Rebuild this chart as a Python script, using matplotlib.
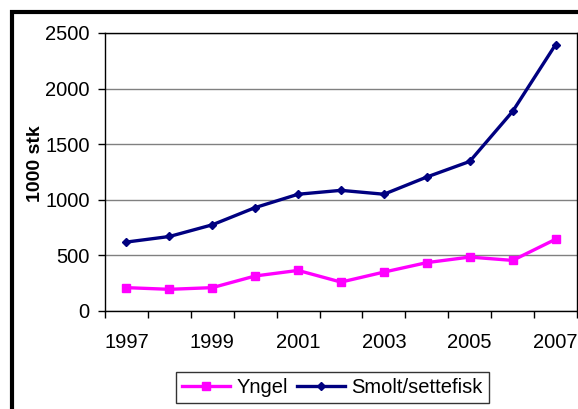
import matplotlib
matplotlib.use("Agg")
import matplotlib.pyplot as plt
from matplotlib.patches import Rectangle

plt.rcParams['font.family'] = ['Liberation Sans', 'DejaVu Sans']

years = ['1997', '1998', '1999', '2000', '2001', '2002', '2003', '2004', '2005', '2006', '2007']
yngel = [210, 195, 210, 315, 365, 260, 350, 435, 485, 455, 645]
smolt = [620, 670, 775, 930, 1050, 1085, 1050, 1205, 1345, 1795, 2395]

fig = plt.figure(figsize=(5.78, 4.09), dpi=100)
ax = fig.add_axes([105 / 578, (409 - 311) / 409, 472 / 578, 278 / 409])

x = list(range(len(years)))
ax.plot(x, yngel, color='#FF00FF', lw=2.4, marker='s', ms=5.5, label='Yngel')
ax.plot(x, smolt, color='#000080', lw=2.4, marker='D', ms=4.5, label='Smolt/settefisk')

ax.set_xlim(-0.5, len(years) - 0.5)
ax.set_ylim(0, 2500)
ax.set_yticks(range(0, 2501, 500))
ax.yaxis.grid(True, color='#808080', lw=1)
ax.set_axisbelow(True)

# labels on every other year, tick marks on category borders
ax.set_xticks(x[::2])
ax.set_xticklabels(years[::2])
ax.set_xticks([i - 0.5 for i in range(len(years) + 1)], minor=True)
ax.tick_params(axis='x', which='major', length=0, pad=16, labelsize=14.5)
ax.tick_params(axis='x', which='minor', length=5, width=1, direction='out')
ax.tick_params(axis='y', length=5, width=1, pad=6, labelsize=14.5)

for s in ax.spines.values():
    s.set_color('black')
    s.set_linewidth(1)

ax.set_ylabel('1000 stk', fontsize=14, fontweight='bold')
ax.yaxis.set_label_coords(-0.129, 0.53)

# outer chart border
fig.patches.append(Rectangle((12 / 578, -0.1), 1.2, (409 - 12) / 409 + 0.1,
                             transform=fig.transFigure, fill=False,
                             edgecolor='black', lw=3))

leg = fig.legend(loc='upper left', bbox_to_anchor=(176 / 578, 1 - 372 / 409),
                 ncol=2, frameon=True, fancybox=False, edgecolor='black',
                 fontsize=14.5, handlelength=2.4, columnspacing=0.45,
                 handletextpad=0.3, borderpad=0.3, borderaxespad=0)
leg.get_frame().set_linewidth(1)

fig.savefig('out.png', dpi=100)
